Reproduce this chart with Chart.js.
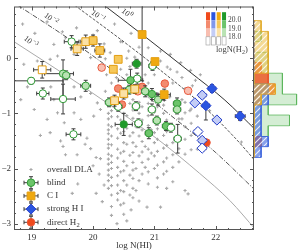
<!DOCTYPE html>
<html lang="en">
<head>
  <meta charset="UTF-8" />
  <title>H2 absorbers among DLAs</title>
  <script src="https://cdn.jsdelivr.net/npm/chart.js"></script>
  <style>
    body { margin: 0; background: #fff; }
    #wrap { position: relative; width: 299px; height: 250px; overflow: hidden; }
    #wrap canvas { position: absolute; top: 0; }
    #main { left: 0; }
    #hist { left: 254px; }
  </style>
</head>
<body>
  <div id="wrap">
    <canvas id="main" width="299" height="250"></canvas>
    <canvas id="hist" width="45" height="250"></canvas>
  </div>
  <script>
    // overall DLA sample: [log N(HI), y]
    const dlaPoints = [
      [18.85,0.62],[19.05,0.45],[19.25,0.66],[19.50,0.48],[19.73,0.55],[20.07,0.50],[20.35,0.62],[19.55,0.37],
      [20.00,0.42],[20.48,0.30],[19.36,0.25],[19.80,0.20],[20.18,0.26],[20.28,0.10],[19.42,0.04],[19.30,-0.02],
      [19.09,-0.05],[18.87,-0.11],[19.69,0.07],[19.96,0.01],[20.20,-0.01],[20.58,0.13],[20.68,0.02],[20.90,0.19],
      [21.10,0.13],[21.26,0.07],[21.43,-0.08],[21.59,-0.22],[21.67,-0.40],[21.75,-0.30],[21.37,-0.25],[21.21,-0.16],
      [20.45,0.30],[20.62,0.45],[20.75,0.20],[20.55,0.00],
      [18.93,-0.52],[18.82,-0.75],[19.31,-0.52],[19.36,-0.75],[19.69,-0.52],[19.80,-0.70],[19.96,-0.64],[20.07,-0.81],
      [19.69,-0.99],[19.42,-0.99],[19.04,-0.93],[19.25,-1.11],[19.80,-1.11],[19.53,-1.17],[20.01,-1.05],[20.12,-0.93],
      [19.14,-1.40],[19.30,-1.35],[19.51,-1.60],[19.47,-1.50],[19.87,-1.56],[19.74,-1.75],[19.90,-1.45],[20.05,-1.80],
      [19.55,-1.75],[19.96,-1.64],[20.12,-1.82],[19.75,-2.28],[19.66,-2.45],[20.00,-1.95],[20.10,-2.10],[20.18,-2.30],
      [20.05,-2.45],[20.15,-2.60],
      [20.22,-0.30],[20.30,-0.45],[20.38,-0.35],[20.45,-0.20],[20.55,-0.30],[20.60,-0.15],[20.85,-0.30],[20.90,-0.45],
      [21.00,-0.30],[20.95,-0.10],[20.55,-0.70],[20.65,-0.75],[20.20,-0.60],[20.45,-0.60],
      [21.10,-0.05],[21.26,-0.20],[21.45,-0.35],[21.30,-0.45],[21.50,-0.55],[21.62,-0.50],[21.15,-0.85],[21.25,-0.70],
      [21.45,-0.75],[21.58,-0.95],[21.70,-1.05],[21.45,-1.10],[21.90,-0.95],[22.42,-1.52],
      [20.25,-1.00],[20.25,-1.10],[20.25,-1.21],[20.25,-1.30],[20.25,-1.37],[20.25,-1.47],[20.25,-1.56],[20.25,-1.63],
      [20.25,-1.74],[20.25,-1.83],[20.25,-1.92],[20.25,-2.03],[20.25,-2.12],[20.25,-2.22],[20.25,-2.36],
      [20.30,-0.83],[20.30,-0.95],[20.30,-1.06],[20.30,-1.24],[20.30,-1.41],[20.30,-1.57],[20.30,-1.77],[20.30,-1.89],
      [20.30,-2.00],[20.30,-2.16],[20.30,-2.31],[20.30,-2.48],[20.30,-2.69],
      [20.40,-0.94],[20.40,-1.06],[20.40,-1.28],[20.40,-1.45],[20.40,-1.65],[20.40,-1.81],[20.40,-1.98],[20.40,-2.13],
      [20.40,-2.30],[20.40,-2.45],[20.40,-2.57],
      [20.45,-1.12],[20.45,-1.36],[20.45,-1.72],[20.45,-2.06],[20.45,-2.40],[20.45,-2.66],
      [20.50,-1.00],[20.50,-1.33],[20.50,-1.53],[20.50,-1.69],[20.50,-1.87],[20.50,-2.04],[20.50,-2.22],[20.50,-2.42],
      [20.50,-2.63],[20.50,-2.83],
      [20.55,-1.04],[20.55,-1.27],[20.55,-1.56],[20.55,-1.95],[20.55,-2.30],
      [20.60,-0.82],[20.60,-1.41],[20.60,-1.76],[20.60,-2.12],[20.60,-2.48],
      [20.65,-0.94],[20.65,-1.09],[20.65,-1.35],[20.65,-1.53],[20.65,-1.71],[20.65,-1.89],[20.65,-2.03],[20.65,-2.18],
      [20.65,-2.36],[20.65,-2.53],
      [20.70,-1.24],[20.70,-1.60],[20.70,-2.00],[20.70,-2.40],
      [20.75,-0.80],[20.75,-1.00],[20.75,-1.41],[20.75,-1.77],[20.75,-2.22],[20.75,-2.59],
      [20.80,-0.88],[20.80,-1.12],[20.80,-1.30],[20.80,-1.51],[20.80,-1.70],[20.80,-1.89],[20.80,-2.10],
      [20.85,-1.60],[20.85,-1.98],
      [20.90,-0.82],[20.90,-1.04],[20.90,-1.22],[20.90,-1.41],[20.90,-1.65],[20.90,-1.83],[20.90,-2.06],[20.90,-2.28],
      [20.95,-1.30],[20.95,-1.72],
      [21.00,-0.98],[21.00,-1.16],[21.00,-1.35],[21.00,-1.53],[21.00,-1.77],[21.00,-2.00],
      [21.05,-0.88],[21.05,-1.28],[21.05,-1.47],[21.05,-1.69],[21.05,-1.94],[21.05,-2.17],[21.05,-2.34],
      [21.15,-1.00],[21.15,-1.40],[21.15,-1.63],[21.15,-1.88],[21.15,-2.10],
      [21.20,-1.12],[21.20,-1.33],[21.20,-1.58],[21.20,-1.81],[21.20,-2.05],[21.20,-2.36],
      [21.30,-1.28],[21.30,-1.53],[21.30,-1.75],[21.30,-1.98],[21.30,-2.24],
      [21.40,-1.10],[21.40,-1.41],[21.40,-1.64],[21.40,-1.88],
      [21.50,-0.80],[21.50,-0.99],[21.50,-1.24],[21.50,-1.47],[21.50,-1.74],[21.50,-2.40],[21.55,-2.46],
      [21.60,-0.92],[21.60,-1.18],[21.60,-1.40],[21.60,-1.66],[21.70,-1.28],[21.70,-1.65],
      [21.10,-2.70],[20.88,-2.70],[20.39,-3.00],[20.55,-2.95],[20.30,-2.85],[20.62,-2.75]
    ];

    // [log N(HI), y, x error, y error ([down, up] when asymmetric), log N(H2)]
    const blind = [
      [19.65, 0.30, 0.12, 0.11, 17.5], [20.97, -0.14, 0.06, 0.08, 17.5], [20.71, -0.10, 0.07, 0.08, 20.3],
      [19.51, -0.28, [0.30, 0.17], [0.46, 0.25], 18.5], [19.56, -0.31, 0.06, 0.08, 18.5],
      [18.99, -0.41, 0.52, 0.06, 17.5], [19.88, -0.50, 0.08, 0.10, 18.5], [19.18, -0.64, 0.10, 0.10, 17.5],
      [19.51, -0.74, 0.20, 0.27, 17.5], [19.68, -1.38, 0.12, 0.10, 17.5], [20.72, -0.37, 0.06, 0.10, 17.5],
      [20.61, -0.40, 0.20, 0.20, 19.5], [20.85, -0.60, 0.06, 0.10, 18.5], [20.96, -0.65, 0.08, 0.10, 19.5],
      [21.06, -0.75, 0.10, 0.10, 18.5], [20.26, -0.80, 0.06, 0.08, 18.5], [20.41, -0.88, 0.06, 0.08, 17.5],
      [20.70, -0.87, 0.06, 0.08, 17.5], [20.96, -0.93, 0.06, 0.10, 17.5], [21.37, -0.82, 0.06, 0.10, 19.5],
      [21.37, -0.93, 0.06, 0.08, 18.5], [21.04, -1.13, 0.06, 0.08, 18.5], [20.50, -1.20, 0.14, 0.20, 20.3],
      [20.74, -1.18, 0.06, 0.08, 17.5], [21.19, -1.23, 0.06, 0.08, 19.5], [21.27, -1.26, 0.06, 0.08, 17.5],
      [20.91, -1.36, 0.06, 0.10, 19.5], [21.38, -1.46, 0.06, 0.26, 17.5], [20.59, -0.57, 0.06, 0.08, 18.5]
    ];
    const ciSample = [
      [20.80, 0.43, 0.04, 0.84, 20.3], [19.88, 0.30, 0.08, 0.12, 18.5], [20.00, 0.32, 0.06, 0.10, 19.5],
      [19.74, 0.17, 0.10, 0.12, 18.5], [20.11, 0.14, 0.08, 0.12, 19.5], [20.41, -0.02, 0, 0, 19.5],
      [21.01, -0.06, 0, 0, 20.3], [20.33, -0.20, 0, 0, 19.5], [19.17, -0.21, 0.14, 0.15, 17.5],
      [20.68, -0.56, 0.06, 0.08, 18.5], [20.50, -0.64, 0.06, 0.10, 18.5], [21.16, -0.66, 0.10, 0.10, 20.3],
      [20.35, -0.77, 0.06, 0.10, 18.5]
    ];
    const strongHI = [
      [21.94, -0.55, 0.06, 0.07, 20.3], [21.78, -0.67, 0.06, 0.06, 18.5], [21.66, -0.81, 0.04, 0.04, 18.5],
      [21.84, -0.86, 0.06, [0.26, 0.06], 20.3], [22.02, -1.12, 0.06, 0.06, 18.5], [22.40, -1.05, 0.08, 0.08, 20.3],
      [21.71, -1.33, 0.06, 0.06, 17.5], [21.78, -1.49, 0.06, 0.06, 18.5], [21.78, -1.63, 0.06, 0.06, 17.5]
    ];
    const directH2 = [
      [20.14, -0.17, 0, 0, 18.5], [20.41, -0.55, 0, 0, 19.5], [20.80, -0.52, 0, 0, 19.5],
      [20.73, -0.60, 0, 0, 18.5], [21.17, -0.46, 0, 0, 19.5], [20.47, -0.84, 0, 0, 19.5],
      [21.55, -0.59, 0, 0, 18.5], [21.85, -1.53, 0, 0, 20.3]
    ];

    // model curves, labelled by 10^k
    const curveExp = ['0', '\u22121', '\u22122', '\u22123'];
    const curveX = [
      [20.18, 20.93, 21.58, 22.15, 22.66],
      [19.70, 20.44, 21.09, 21.74, 22.32, 22.66],
      [18.77, 19.58, 20.44, 21.26, 21.99, 22.66],
      [18.71, 19.95, 21.09, 21.74, 22.23, 22.66]
    ];
    const curveY = [
      [0.96, 0.32, -0.25, -0.76, -1.31],
      [0.96, 0.35, -0.21, -0.81, -1.45, -1.88],
      [0.96, 0.37, -0.32, -1.03, -1.70, -2.41],
      [0.30, -0.60, -1.50, -2.09, -2.58, -3.12]
    ];

    // side histogram of y: bin edges (top to bottom) and counts per bin
    const histEdges = [0.59, 0.40, 0.22, 0.03, -0.15, -0.34, -0.53, -0.71, -0.90, -1.08, -1.27, -1.46, -1.64, -1.83];
    const histBlind  = [0, 1, 0, 2, 2, 4, 4, 6, 2, 5, 2, 1, 0];
    const histDirect = [0, 0, 0, 0, 1, 2, 3, 1, 0, 0, 0, 1, 0];
    const histStrong = [0, 0, 0, 0, 0, 0, 2, 2, 1, 1, 1, 2, 1];
    const histCI     = [1, 2, 2, 2, 2, 0, 3, 1, 0, 0, 0, 0, 0];

    const X_MIN = 18.71, X_MAX = 22.625, Y_MIN = -3.115, Y_MAX = 0.938;
    const SERIF = '"Liberation Serif", "DejaVu Serif", serif';

    const shades = {
      blind:  ['#ffffff', '#b9e3b3', '#6cc46a', '#1f9a2a'],
      ci:     ['#ffffff', '#fbe1a6', '#f6c85a', '#f0a90f'],
      strong: ['#ffffff', '#c3cdf6', '#8098ec', '#2a55e0'],
      direct: ['#ffffff', '#f8beb0', '#f38a6e', '#f04a1c']
    };
    const edges = { blind: '#2f9a35', ci: '#e39e12', strong: '#2742d0', direct: '#e9573a' };
    const level = h2 => h2 >= 20 ? 3 : h2 >= 19 ? 2 : h2 >= 18 ? 1 : 0;
    const isWhole = v => Math.abs(v - Math.round(v)) < 1e-6;

    function sample(rows, key, style, radius, order) {
      return {
        label: key,
        data: rows.map(r => ({ x: r[0], y: r[1] })),
        errors: rows.map(r => [r[2], r[3]]),
        pointStyle: style,
        pointRadius: radius,
        pointBackgroundColor: rows.map(r => shades[key][level(r[4])]),
        pointBorderColor: edges[key],
        pointBorderWidth: 1,
        order
      };
    }

    const curveStyles = [
      { color: '#333', width: 1, dash: [] },
      { color: '#444', width: 0.9, dash: [3, 1.5] },
      { color: '#444', width: 0.9, dash: [5, 1.5, 1, 1.5] },
      { color: '#aaa', width: 1, dash: [] }
    ];

    const datasets = [
      {
        label: 'overall DLA',
        data: dlaPoints.map(p => ({ x: p[0], y: p[1] })),
        pointStyle: 'cross',
        pointRadius: 1.6,
        pointBorderColor: '#a9a9a9',
        pointBorderWidth: 1.1,
        order: 10
      },
      ...curveX.map((xs, k) => ({
        label: '10^' + curveExp[k],
        data: xs.map((v, i) => ({ x: v, y: curveY[k][i] })),
        showLine: true,
        pointRadius: 0,
        borderColor: curveStyles[k].color,
        borderWidth: curveStyles[k].width,
        borderDash: curveStyles[k].dash,
        cubicInterpolationMode: 'monotone',
        fill: false,
        order: 9
      })),
      sample(directH2, 'direct', 'circle', 3.8, 4),
      sample(blind, 'blind', 'circle', 3.7, 3),
      sample(ciSample, 'ci', 'rect', 5.5, 2),
      sample(strongHI, 'strong', 'rectRot', 5.1, 1)
    ];

    // error bars, drawn just under each sample's markers
    const errorBars = {
      id: 'errorBars',
      beforeDatasetDraw(chart, args) {
        const ds = chart.data.datasets[args.index];
        if (!ds.errors) return;
        const { ctx, chartArea: a, scales: { x, y } } = chart;
        const span = e => Array.isArray(e) ? e : [e, e];
        ctx.save();
        ctx.beginPath();
        ctx.rect(a.left, a.top, a.right - a.left, a.bottom - a.top);
        ctx.clip();
        ctx.strokeStyle = '#3c3c3c';
        ctx.lineWidth = 1;
        ctx.beginPath();
        ds.data.forEach((p, i) => {
          const [ex, ey] = ds.errors[i];
          const cx = x.getPixelForValue(p.x), cy = y.getPixelForValue(p.y);
          if (ex) {
            const [lo, hi] = span(ex);
            const x0 = x.getPixelForValue(p.x - lo), x1 = x.getPixelForValue(p.x + hi);
            ctx.moveTo(x0, cy); ctx.lineTo(x1, cy);
            ctx.moveTo(x0, cy - 2); ctx.lineTo(x0, cy + 2);
            ctx.moveTo(x1, cy - 2); ctx.lineTo(x1, cy + 2);
          }
          if (ey) {
            const [lo, hi] = span(ey);
            const y0 = y.getPixelForValue(p.y - lo), y1 = y.getPixelForValue(p.y + hi);
            ctx.moveTo(cx, y0); ctx.lineTo(cx, y1);
            ctx.moveTo(cx - 2, y0); ctx.lineTo(cx + 2, y0);
            ctx.moveTo(cx - 2, y1); ctx.lineTo(cx + 2, y1);
          }
        });
        ctx.stroke();
        ctx.restore();
      }
    };

    // box with inward ticks on all four sides
    const frame = {
      id: 'frame',
      afterDatasetsDraw(chart) {
        const { ctx, chartArea: a, scales: { x, y } } = chart;
        ctx.save();
        ctx.strokeStyle = '#555';
        ctx.lineWidth = 1;
        ctx.strokeRect(a.left + 0.5, a.top + 0.5, a.right - a.left - 1, a.bottom - a.top - 1);
        ctx.beginPath();
        for (let k = Math.ceil(x.min / 0.2 - 1e-9); k * 0.2 <= x.max; k++) {
          const v = k * 0.2, len = isWhole(v) ? 4 : 2;
          const px = Math.round(x.getPixelForValue(v)) + 0.5;
          ctx.moveTo(px, a.bottom); ctx.lineTo(px, a.bottom - len);
          ctx.moveTo(px, a.top); ctx.lineTo(px, a.top + len);
        }
        for (let k = Math.ceil(y.min / 0.2 - 1e-9); k * 0.2 <= y.max; k++) {
          const v = k * 0.2, len = isWhole(v) ? 4 : 2;
          const py = Math.round(y.getPixelForValue(v)) + 0.5;
          ctx.moveTo(a.left, py); ctx.lineTo(a.left + len, py);
          ctx.moveTo(a.right, py); ctx.lineTo(a.right - len, py);
        }
        ctx.stroke();
        ctx.restore();
      }
    };

    // rotated 10^k labels on the curves
    const curveLabels = {
      id: 'curveLabels',
      afterDatasetsDraw(chart) {
        const { ctx, scales: { x, y } } = chart;
        const spots = [[20.55, 0.81], [20.08, 0.76], [19.31, 0.71], [18.98, 0.29]];
        ctx.save();
        ctx.fillStyle = '#333';
        ctx.textBaseline = 'middle';
        ctx.textAlign = 'left';
        spots.forEach(([vx, vy], k) => {
          ctx.save();
          ctx.translate(x.getPixelForValue(vx), y.getPixelForValue(vy));
          ctx.rotate(38 * Math.PI / 180);
          ctx.font = '8px ' + SERIF;
          const w = ctx.measureText('10').width;
          ctx.font = '6px ' + SERIF;
          const we = ctx.measureText(curveExp[k]).width;
          const x0 = -(w + we + 0.5) / 2;
          ctx.font = '8px ' + SERIF;
          ctx.fillText('10', x0, 0);
          ctx.font = '6px ' + SERIF;
          ctx.fillText(curveExp[k], x0 + w + 0.5, -3);
          ctx.restore();
        });
        ctx.restore();
      }
    };

    function marker(ctx, key, cx, cy, fill) {
      ctx.fillStyle = fill;
      ctx.strokeStyle = edges[key];
      ctx.lineWidth = 1;
      ctx.beginPath();
      if (key === 'ci') ctx.rect(cx - 3.9, cy - 3.9, 7.8, 7.8);
      else if (key === 'strong') {
        ctx.moveTo(cx - 5, cy); ctx.lineTo(cx, cy - 5); ctx.lineTo(cx + 5, cy); ctx.lineTo(cx, cy + 5);
        ctx.closePath();
      } else ctx.arc(cx, cy, 3.8, 0, Math.PI * 2);
      ctx.fill();
      ctx.stroke();
    }

    // legend in the lower left corner
    const legendBox = {
      id: 'legendBox',
      afterDatasetsDraw(chart) {
        const { ctx, chartArea: a } = chart;
        const mx = a.left + 17, tx = a.left + 33;
        const entries = [
          ['overall DLA', null], ['blind', 'blind', 2], ['C I', 'ci', 3],
          ['strong H I', 'strong', 3], ['direct H', 'direct', 3, '2']
        ];
        ctx.save();
        entries.forEach(([text, key, lvl, sub], i) => {
          const cy = a.top + 163 + i * 13.2;
          if (!key) {
            ctx.strokeStyle = '#a9a9a9'; ctx.lineWidth = 1.1;
            ctx.beginPath();
            ctx.moveTo(mx - 1.6, cy); ctx.lineTo(mx + 1.6, cy);
            ctx.moveTo(mx, cy - 1.6); ctx.lineTo(mx, cy + 1.6);
            ctx.stroke();
          } else {
            ctx.strokeStyle = '#3c3c3c'; ctx.lineWidth = 1;
            ctx.beginPath();
            ctx.moveTo(mx - 7, cy); ctx.lineTo(mx + 7, cy);
            ctx.moveTo(mx - 7, cy - 2); ctx.lineTo(mx - 7, cy + 2);
            ctx.moveTo(mx + 7, cy - 2); ctx.lineTo(mx + 7, cy + 2);
            ctx.moveTo(mx, cy - 6); ctx.lineTo(mx, cy + 6);
            ctx.moveTo(mx - 2, cy - 6); ctx.lineTo(mx + 2, cy - 6);
            ctx.moveTo(mx - 2, cy + 6); ctx.lineTo(mx + 2, cy + 6);
            ctx.stroke();
            marker(ctx, key, mx, cy, shades[key][lvl]);
          }
          ctx.fillStyle = '#333';
          ctx.font = '9px ' + SERIF;
          ctx.textAlign = 'left';
          ctx.textBaseline = 'middle';
          ctx.fillText(text, tx, cy);
          if (sub) {
            const w = ctx.measureText(text).width;
            ctx.font = '6.5px ' + SERIF;
            ctx.fillText(sub, tx + w + 0.3, cy + 2.5);
          }
        });
        ctx.restore();
      }
    };

    // colour key for log N(H2)
    const colorKey = {
      id: 'colorKey',
      afterDatasetsDraw(chart) {
        const { ctx, chartArea: a } = chart;
        const cols = ['direct', 'strong', 'ci', 'blind'];
        const x0 = a.left + 192, y0 = a.top + 5.7, cw = 4, gap = 1.35, rh = 8.2;
        ctx.save();
        cols.forEach((key, c) => {
          const cx = x0 + c * (cw + gap);
          for (let r = 0; r < 4; r++) {
            ctx.fillStyle = shades[key][3 - r];
            ctx.fillRect(cx, y0 + r * rh, cw, rh);
          }
          ctx.strokeStyle = '#9a9a9a';
          ctx.lineWidth = 0.6;
          ctx.strokeRect(cx, y0 + 3 * rh, cw, rh);
        });
        ctx.fillStyle = '#444';
        ctx.font = '7.5px ' + SERIF;
        ctx.textAlign = 'left';
        ctx.textBaseline = 'middle';
        ['20.0', '19.0', '18.0'].forEach((t, i) => ctx.fillText(t, x0 + 22, y0 + (i + 1) * rh));
        ctx.font = '8.5px ' + SERIF;
        const lx = x0 + 10, ly = y0 + 4 * rh + 5;
        ctx.fillText('logN(H', lx, ly);
        const w = ctx.measureText('logN(H').width;
        ctx.font = '6px ' + SERIF;
        ctx.fillText('2', lx + w, ly + 2.5);
        const w2 = ctx.measureText('2').width;
        ctx.font = '8.5px ' + SERIF;
        ctx.fillText(')', lx + w + w2, ly);
        ctx.restore();
      }
    };

    const tickFont = { family: SERIF, size: 9 };

    new Chart(document.getElementById('main'), {
      type: 'scatter',
      data: { datasets },
      options: {
        responsive: false,
        animation: false,
        events: [],
        layout: { padding: { top: 1, right: 45, left: 0, bottom: 0 } },
        plugins: { legend: { display: false }, tooltip: { enabled: false } },
        scales: {
          x: {
            type: 'linear', min: X_MIN, max: X_MAX,
            afterFit(s) { s.height = 20; s.paddingLeft = 0; s.paddingRight = 0; },
            grid: { display: false, drawTicks: false },
            border: { display: false },
            ticks: {
              stepSize: 0.2, autoSkip: false, maxRotation: 0, includeBounds: false, padding: 2,
              color: '#333', font: tickFont,
              callback: v => isWhole(v) ? String(Math.round(v)) : ''
            },
            title: {
              display: true, text: 'log N(HI)', color: '#333', padding: 0,
              font: { family: SERIF, size: 9, lineHeight: 1 }
            }
          },
          y: {
            type: 'linear', min: Y_MIN, max: Y_MAX,
            afterFit(s) { s.width = 14; s.paddingTop = 0; s.paddingBottom = 0; },
            grid: { display: false, drawTicks: false },
            border: { display: false },
            ticks: {
              stepSize: 0.2, autoSkip: false, includeBounds: false, padding: 3,
              color: '#333', font: tickFont,
              callback: v => isWhole(v) ? String(Math.round(v)).replace('-', '\u2212') : ''
            }
          }
        }
      },
      plugins: [errorBars, frame, curveLabels, legendBox, colorKey]
    });

    // histogram panel to the right
    function hatch(base) {
      const c = document.createElement('canvas');
      c.width = 6; c.height = 6;
      const g = c.getContext('2d');
      g.fillStyle = base;
      g.fillRect(0, 0, 6, 6);
      g.strokeStyle = 'rgba(255,255,255,0.85)';
      g.lineWidth = 1.1;
      g.beginPath();
      g.moveTo(-1, 7); g.lineTo(7, -1);
      g.moveTo(-1, 1); g.lineTo(1, -1);
      g.moveTo(5, 7); g.lineTo(7, 5);
      g.stroke();
      return g.createPattern(c, 'repeat');
    }

    function steps(counts) {
      const pts = [{ x: 0, y: histEdges[0] }];
      counts.forEach((n, i) => {
        pts.push({ x: n, y: histEdges[i] });
        pts.push({ x: n, y: histEdges[i + 1] });
      });
      pts.push({ x: 0, y: histEdges[histEdges.length - 1] });
      return pts;
    }

    function histSet(counts, fill, line, order) {
      return {
        data: steps(counts), fill: 'shape', backgroundColor: fill, borderColor: line,
        borderWidth: 1, pointRadius: 0, tension: 0, order
      };
    }

    new Chart(document.getElementById('hist'), {
      type: 'line',
      data: {
        datasets: [
          histSet(histBlind, 'rgba(120,200,120,0.32)', 'rgba(90,180,90,0.75)', 4),
          histSet(histDirect, 'rgba(240,80,30,0.8)', 'rgba(235,80,40,0.9)', 3),
          histSet(histStrong, hatch('rgba(70,110,225,0.65)'), 'rgba(60,100,220,0.9)', 2),
          histSet(histCI, hatch('rgba(235,185,60,0.55)'), 'rgba(225,170,40,0.9)', 1)
        ]
      },
      options: {
        responsive: false,
        animation: false,
        events: [],
        layout: { padding: { top: 1, bottom: 20, left: 0, right: 0 } },
        plugins: { legend: { display: false }, tooltip: { enabled: false } },
        scales: {
          x: { type: 'linear', min: 0, max: 6.34, display: false },
          y: { type: 'linear', min: Y_MIN, max: Y_MAX, display: false }
        }
      }
    });
  </script>
</body>
</html>
